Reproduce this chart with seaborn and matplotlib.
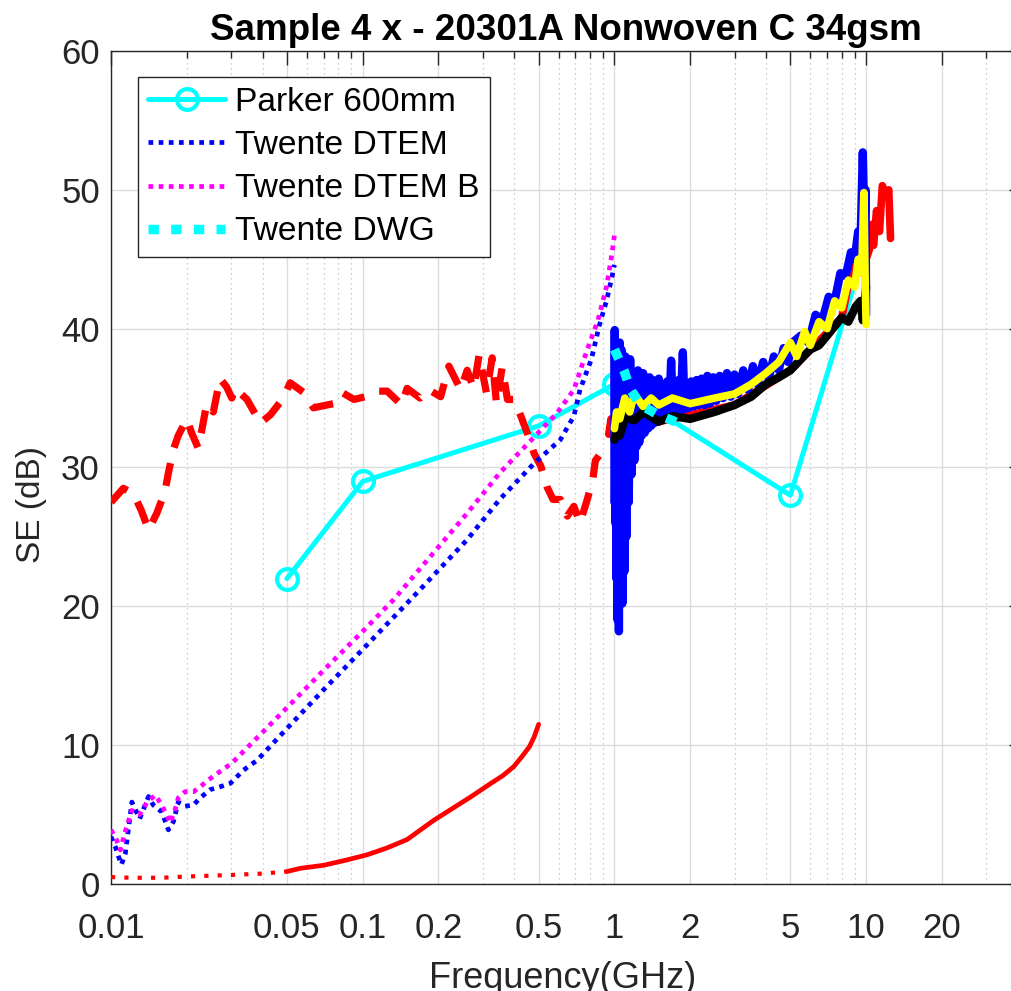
import numpy as np
import pandas as pd
import seaborn as sns
import matplotlib
matplotlib.use("Agg")
import matplotlib.pyplot as plt
from matplotlib.ticker import FixedLocator, LogLocator, NullFormatter

# ---- data (GHz, dB) ----
parker_f = [0.05, 0.1, 0.5, 1, 5, 10]
parker_se = [22, 29, 33, 36, 28, 46]

dtem_f = [0.01, 0.0104, 0.0107, 0.011, 0.0114, 0.0121, 0.013, 0.0141, 0.0147, 0.0159,
          0.0169, 0.0177, 0.0185, 0.0197, 0.0213, 0.0226, 0.0248, 0.0271, 0.0298, 0.0336,
          0.038, 0.05, 0.07, 0.1, 0.159, 0.26, 0.35, 0.48, 0.61, 0.69, 0.73, 0.81, 0.87,
          0.93, 0.98, 1.0]
dtem_se = [3.4, 2.7, 2.0, 1.4, 2.2, 5.9, 4.7, 6.3, 5.7, 5.2,
           3.9, 4.5, 5.9, 5.6, 5.7, 6.2, 6.8, 7.0, 7.25, 8.2,
           8.9, 11.2, 14.0, 16.9, 20.7, 24.8, 27.7, 30.3, 32.0, 33.7, 35.6, 37.8, 40.2,
           42.0, 43.8, 44.6]

dtemb_f = [0.01, 0.0105, 0.0109, 0.0114, 0.0121, 0.013, 0.0139, 0.015, 0.0159, 0.0166,
           0.0172, 0.018, 0.0185, 0.0197, 0.0213, 0.0226, 0.0244, 0.0271, 0.0302, 0.05,
           0.07, 0.1, 0.133, 0.19, 0.26, 0.35, 0.48, 0.59, 0.69, 0.78, 0.86, 0.93, 0.97, 1.0]
dtemb_se = [3.9, 3.2, 2.45, 3.8, 5.3, 5.0, 5.9, 6.4, 5.7, 5.0,
            4.4, 5.4, 6.2, 6.65, 6.65, 7.0, 7.5, 8.1, 8.7, 12.7,
            15.4, 18.2, 20.5, 23.8, 26.7, 29.6, 32.2, 33.9, 35.6, 38.5, 40.6, 43.0, 45.0, 46.7]

dwg_f = [1.0, 1.09, 1.16, 1.27, 1.49, 1.8]
dwg_se = [38.5, 37.0, 35.6, 34.5, 33.8, 33.2]

red_low_f = [0.01, 0.012, 0.014, 0.016, 0.0194, 0.025, 0.03, 0.04, 0.05, 0.0566, 0.07,
             0.085, 0.104, 0.125, 0.15, 0.192, 0.23, 0.27, 0.32, 0.36, 0.398, 0.43, 0.46,
             0.48, 0.5]
red_low_se = [0.5, 0.45, 0.45, 0.45, 0.53, 0.6, 0.65, 0.75, 0.9, 1.13, 1.35,
              1.7, 2.1, 2.6, 3.2, 4.6, 5.5, 6.3, 7.2, 7.8, 8.45, 9.2, 9.9,
              10.6, 11.5]

red_dash_f = [0.01, 0.0112, 0.0123, 0.0132, 0.0141, 0.0152, 0.0164, 0.0169, 0.0177, 0.0185,
              0.02, 0.0209, 0.0222, 0.0229, 0.024, 0.0255, 0.0271, 0.0288, 0.0302, 0.0311,
              0.0347, 0.0392, 0.043, 0.0484, 0.0515, 0.0583, 0.0637, 0.0766, 0.0828, 0.0923,
              0.1025, 0.1157, 0.125, 0.143, 0.15, 0.169, 0.183, 0.204, 0.22, 0.245,
              0.26, 0.276, 0.29, 0.31, 0.327, 0.34, 0.358, 0.376, 0.4, 0.425,
              0.45, 0.48, 0.51, 0.54, 0.57, 0.61, 0.65, 0.69, 0.73, 0.78,
              0.82, 0.84, 0.88, 0.91]
red_dash_se = [27.5, 28.5, 28.1, 26.9, 25.5, 26.7, 28.3, 29.6, 31.3, 32.3,
               33.5, 32.5, 31.4, 32.6, 34.6, 34.0, 36.4, 35.8, 35.0, 35.7,
               34.9, 33.2, 33.8, 35.0, 36.1, 35.4, 34.3, 34.6, 35.4, 34.9,
               35.1, 35.5, 35.5, 34.5, 35.7, 35.0, 35.6, 35.1, 37.3, 35.6,
               37.0, 35.7, 38.1, 35.4, 37.9, 34.6, 37.2, 34.9, 34.9, 33.7,
               32.5, 31.0, 30.1, 28.6, 27.7, 27.7, 26.5, 27.2, 26.0, 27.7,
               29.1, 30.5, 31.0, 31.3]

red_solid_f = [0.95, 0.97, 0.99, 1.0, 1.5, 3.0, 5.0, 8.0, 8.8, 9.5, 10.0, 10.3, 10.5,
               10.7, 11.0, 11.3, 11.6, 12.0, 12.3, 12.5]
red_solid_se = [32.4, 33.5, 32.6, 32.6, 33.3, 34.5, 37.0, 40.8, 44.5, 44.0, 45.0, 45.7,
                47.5, 46.0, 48.5, 47.0, 50.3, 49.5, 50.0, 46.5]

blue_f = [1.0, 1.003, 1.008, 1.013, 1.018, 1.024, 1.03, 1.036, 1.042, 1.05, 1.058, 1.066,
          1.075, 1.085, 1.095, 1.105, 1.115, 1.125, 1.14, 1.155, 1.17, 1.185,
          1.2, 1.21, 1.225, 1.24, 1.255, 1.27, 1.285, 1.3, 1.32, 1.34, 1.36, 1.38, 1.4,
          1.42, 1.44, 1.46, 1.48, 1.5, 1.53, 1.56, 1.59, 1.62, 1.65, 1.68, 1.71, 1.74,
          1.77, 1.8, 1.83, 1.87, 1.9, 1.94, 1.98, 2.02, 2.07, 2.12, 2.17, 2.22, 2.28,
          2.34, 2.4, 2.47, 2.54, 2.62, 2.7, 2.8, 2.9, 3.0, 3.1, 3.25, 3.4, 3.55, 3.7,
          3.9, 4.1, 4.3, 4.5, 4.7, 4.9, 5.1, 5.5, 5.9, 6.3, 6.7, 7.1, 7.5, 7.9, 8.3,
          8.7, 9.0, 9.3, 9.5, 9.7, 9.85, 9.95, 10.0]
blue_se = [27.5, 39.9, 26.0, 38.5, 22.0, 38.0, 19.0, 37.0, 18.2, 39.0, 21.0, 38.5,
           20.2, 37.5, 22.5, 38.0, 25.0, 37.5, 27.5, 37.8, 29.5, 36.8,
           30.5, 36.8, 31.5, 37.0, 31.8, 36.5, 32.3, 36.8, 32.5, 36.2, 32.8, 36.5, 33.0,
           36.3, 33.2, 36.0, 33.3, 36.4, 33.5, 36.0, 33.6, 36.2, 33.8, 37.7, 34.0, 36.1,
           34.0, 36.3, 34.1, 38.3, 34.2, 36.0, 34.3, 36.2, 34.4, 36.3, 34.5, 36.4, 34.5,
           36.6, 34.6, 36.5, 34.8, 36.6, 35.0, 36.8, 35.1, 36.7, 35.3, 37.0, 35.6, 37.3, 36.0,
           37.6, 36.4, 38.0, 37.0, 38.6, 37.6, 39.0, 39.5, 39.0, 41.0, 40.6, 42.3, 42.0, 44.0,
           43.8, 45.5, 45.0, 47.0, 46.2, 52.7, 47.0, 50.0, 41.0]

yellow_f = [1.0, 1.02, 1.05, 1.1, 1.15, 1.2, 1.3, 1.4, 1.5, 1.7, 2.0, 2.5, 3.0, 3.5, 4.0,
            4.5, 5.0, 5.3, 5.7, 6.0, 6.5, 7.0, 7.5, 8.0, 8.5, 9.0, 9.3, 9.6, 9.8, 9.9, 10.0]
yellow_se = [32.8, 34.0, 33.5, 35.0, 34.0, 35.3, 34.4, 35.0, 34.5, 35.0, 34.6, 35.0, 35.3,
             36.0, 36.8, 37.6, 39.0, 38.0, 39.8, 38.8, 40.5, 40.0, 42.0, 41.5, 43.5, 43.0,
             45.0, 44.0, 49.8, 44.0, 40.3]

black_f = [1.0, 1.02, 1.05, 1.1, 1.2, 1.3, 1.5, 1.7, 2.0, 2.5, 3.0, 3.5, 4.0, 4.5, 5.0,
           5.5, 6.0, 6.5, 7.0, 8.0, 8.5, 9.1, 9.5, 9.7, 10.0]
black_se = [32.0, 32.5, 32.3, 33.6, 33.4, 34.0, 33.3, 33.7, 33.5, 34.0, 34.5, 35.1, 36.0,
            36.5, 37.0, 37.8, 38.5, 38.8, 39.5, 40.8, 40.5, 41.6, 42.0, 40.6, 43.0]

x_ticks = [0.01, 0.05, 0.1, 0.2, 0.5, 1, 2, 5, 10, 20]
x_ticklabels = ["0.01", "0.05", "0.1", "0.2", "0.5", "1", "2", "5", "10", "20"]
y_ticks = [0, 10, 20, 30, 40, 50, 60]

# ---- style ----
sns.set_theme(style="white")
plt.rcParams["font.family"] = ["Liberation Sans", "DejaVu Sans"]
ink = "#262626"

fig = plt.figure(figsize=(10.11, 9.91), dpi=100)
ax = fig.add_axes([111 / 1011, 1 - 884 / 991, 912 / 1011, 833 / 991])


def draw(f, se, **kw):
    sns.lineplot(x=f, y=se, ax=ax, sort=False, estimator=None, **kw)
    return ax.lines[-1]


h_parker = draw(parker_f, parker_se, color="cyan", lw=3.6, marker="o", markersize=15,
                markevery=[0, 1, 2, 3, 4], markerfacecolor="none",
                markeredgecolor="cyan", markeredgewidth=3, zorder=2)
# low red trace: sparse dots below 50 MHz, dense (looks continuous) above
n_sparse = red_low_f.index(0.05) + 1
draw(red_low_f[:n_sparse], red_low_se[:n_sparse], color="red", lw=3.0,
     linestyle=(0, (1, 2.2)), zorder=3)
draw(red_low_f[n_sparse - 1:], red_low_se[n_sparse - 1:], color="red", lw=3.4, zorder=3)
draw(red_dash_f, red_dash_se, color="red", lw=5.2, linestyle=(0, (3.2, 2.2)), zorder=3)
draw(red_solid_f, red_solid_se, color="red", lw=5.5, zorder=3)
h_dtem = draw(dtem_f, dtem_se, color="blue", lw=3.4, linestyle=(0, (1, 1.15)), zorder=4)
h_dtemb = draw(dtemb_f, dtemb_se, color="magenta", lw=3.4, linestyle=(0, (1, 1.15)), zorder=4)
draw(blue_f, blue_se, color="blue", lw=6.0, zorder=5)
draw(black_f, black_se, color="black", lw=6.0, zorder=6)
draw(yellow_f, yellow_se, color="yellow", lw=5.5, zorder=7)
h_dwg = draw(dwg_f, dwg_se, color="cyan", lw=6.8, linestyle=(0, (1.1, 1.3)), zorder=8)

# ---- axes ----
ax.set_xscale("log")
ax.set_xlim(0.01, 42)
ax.set_ylim(0, 60)
ax.xaxis.set_major_locator(FixedLocator(x_ticks))
ax.set_xticklabels(x_ticklabels)
ax.xaxis.set_minor_locator(LogLocator(base=10, subs=np.arange(2, 10)))
ax.xaxis.set_minor_formatter(NullFormatter())
ax.set_yticks(y_ticks)

ax.grid(True, which="major", color="#dcdcdc", lw=1.0, ls="-", zorder=0)
ax.grid(True, which="minor", axis="x", color="#bdbdbd", lw=0.9, ls=(0, (1, 3)), zorder=0)
ax.set_axisbelow(True)

for s in ax.spines.values():
    s.set_color(ink)
    s.set_linewidth(1.0)
ax.tick_params(which="both", direction="in", top=True, right=True, color=ink,
               labelcolor=ink, width=1.0, labelsize=25)
ax.tick_params(which="major", length=10)
ax.tick_params(which="minor", length=5)
ax.tick_params(axis="x", pad=20)
ax.tick_params(axis="y", pad=8)

ax.set_xlabel("Frequency(GHz)", fontsize=26, color=ink)
ax.set_ylabel("SE (dB)", fontsize=24, color=ink)
ax.xaxis.set_label_coords((563 - 111) / 912, -0.093)
ax.yaxis.set_label_coords(-0.07, (884 - 505) / 833)
ax.set_title("Sample 4 x - 20301A Nonwoven C 34gsm", fontsize=26.5, fontweight="bold",
             color="black", pad=8)
ax.title.set_position(((566 - 111) / 912, 1.0))

leg = ax.legend([h_parker, h_dtem, h_dtemb, h_dwg],
                ["Parker 600mm", "Twente DTEM", "Twente DTEM B", "Twente DWG"],
                loc="upper left", bbox_to_anchor=(27 / 912, (884 - 77) / 833),
                borderaxespad=0, fontsize=24.2, frameon=True, fancybox=False,
                framealpha=1, edgecolor=ink, handlelength=2.3, handletextpad=0.3,
                labelspacing=0.36, borderpad=0.3, numpoints=1)
leg.get_frame().set_linewidth(1.0)
for t in leg.get_texts():
    t.set_color("black")

fig.savefig("out.png", dpi=100)
